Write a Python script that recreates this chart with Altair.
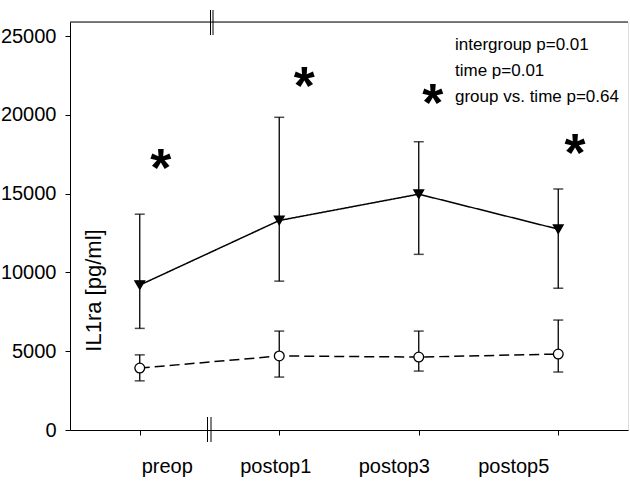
import altair as alt
import pandas as pd

# ---- data ----
times = ["preop", "postop1", "postop3", "postop5"]
group_a_mean = [9200, 13300, 14970, 12750]
group_a_low = [6450, 9450, 11150, 9000]
group_a_high = [13700, 19850, 18300, 15300]
group_b_mean = [3930, 4700, 4630, 4820]
group_b_low = [3120, 3360, 3740, 3680]
group_b_high = [4770, 6280, 6280, 6980]
star_x = [1.15, 2.18, 3.10, 4.12]
star_y = [17130, 22330, 21250, 18080]
y_ticks = [0, 5000, 10000, 15000, 20000, 25000]
stats = ["intergroup p=0.01", "time p=0.01", "group vs. time p=0.64"]
axis_break = 1.5

pos = list(range(1, len(times) + 1))
df_a = pd.DataFrame({"pos": pos, "time": times, "mean": group_a_mean,
                     "low": group_a_low, "high": group_a_high})
df_b = pd.DataFrame({"pos": pos, "time": times, "mean": group_b_mean,
                     "low": group_b_low, "high": group_b_high})
df_star = pd.DataFrame({"pos": star_x, "y": star_y})
df_one = pd.DataFrame({"pos": [axis_break]})

label_expr = "[" + ",".join("'%s'" % t for t in times) + "][datum.value - 1]"

xscale = alt.Scale(domain=[0.5, 4.5], nice=False, zero=False)
yscale = alt.Scale(domain=[0, 25900], nice=False, zero=True)

x_axis = alt.Axis(
    values=pos, labelExpr=label_expr, title=None, grid=False,
    tickSize=5, tickColor="black", domainColor="black",
    labelFontSize=20, labelPadding=21, labelFlush=False, labelOverlap=False,
    labelOffset={"condition": [
        {"test": "datum.value == 1", "value": 27},
        {"test": "datum.value == 2", "value": -4},
        {"test": "datum.value == 3", "value": -25}],
        "value": -45},
)
y_axis = alt.Axis(
    values=y_ticks, grid=False, tickSize=5, tickColor="black",
    domainColor="black", labelFontSize=20, labelPadding=9,
    labelFlush=False, format="d",
    title="IL1ra [pg/ml]", titleFontSize=22, titleFontWeight="normal",
    titleX=23, titleY=268, titleAngle=270, titleAlign="center",
    titleBaseline="middle",
)

X = alt.X("pos:Q", scale=xscale, axis=x_axis)
Y = alt.Y("mean:Q", scale=yscale, axis=y_axis)

def group_layers(df, shape, fill, dash):
    base = alt.Chart(df)
    line = base.mark_line(color="black", strokeWidth=1.5,
                          strokeDash=dash).encode(x=X, y=Y)
    rule = base.mark_rule(color="black", strokeWidth=1.3).encode(
        x="pos:Q", y="low:Q", y2="high:Q")
    cap_lo = base.mark_tick(color="black", orient="horizontal", size=10,
                            thickness=1.5).encode(x="pos:Q", y="low:Q")
    cap_hi = base.mark_tick(color="black", orient="horizontal", size=10,
                            thickness=1.5).encode(x="pos:Q", y="high:Q")
    pts = base.mark_point(shape=shape, filled=True, fill=fill, stroke="black",
                          strokeWidth=1.3, size=95, opacity=1).encode(
        x="pos:Q", y="mean:Q")
    return [rule, cap_lo, cap_hi, line, pts]

layers = []
layers += group_layers(df_a, "triangle-down", "black", [1, 0])
layers += group_layers(df_b, "circle", "white", [10, 5])

stars = alt.Chart(df_star).mark_text(
    text="*", fontSize=54, fontWeight="bold", color="black",
    baseline="alphabetic", dy=26).encode(x="pos:Q", y="y:Q")

top_line = alt.Chart(df_one).mark_rule(color="black", strokeWidth=1).encode(
    x=alt.value(0), x2=alt.value(558), y=alt.value(0))

brk_top1 = alt.Chart(df_one).mark_rule(color="black", strokeWidth=1, xOffset=1).encode(
    x="pos:Q", y=alt.value(-12), y2=alt.value(13))
brk_top2 = alt.Chart(df_one).mark_rule(color="black", strokeWidth=1, xOffset=3.5).encode(
    x="pos:Q", y=alt.value(-12), y2=alt.value(13))
brk_bot1 = alt.Chart(df_one).mark_rule(color="black", strokeWidth=1, xOffset=-2).encode(
    x="pos:Q", y=alt.value(395), y2=alt.value(420))
brk_bot2 = alt.Chart(df_one).mark_rule(color="black", strokeWidth=1, xOffset=1.5).encode(
    x="pos:Q", y=alt.value(395), y2=alt.value(420))

legend = alt.Chart(df_one).mark_text(
    text=stats, align="left", baseline="alphabetic", fontSize=17,
    lineHeight=26, color="black").encode(x=alt.value(385), y=alt.value(27.5))

chart = alt.layer(
    top_line, *layers, stars, brk_top1, brk_top2, brk_bot1, brk_bot2, legend
).properties(
    width=558, height=408,
    autosize=alt.AutoSizeParams(type="none"),
    padding={"left": 70, "top": 22, "right": 2, "bottom": 62},
).configure_view(stroke=None).configure(
    font="Liberation Sans"
).configure_axis(labelColor="black", titleColor="black", labelFont="Liberation Sans",
                 titleFont="Liberation Sans")

chart.save("out.html", embed_options={"renderer": "svg", "actions": False})
